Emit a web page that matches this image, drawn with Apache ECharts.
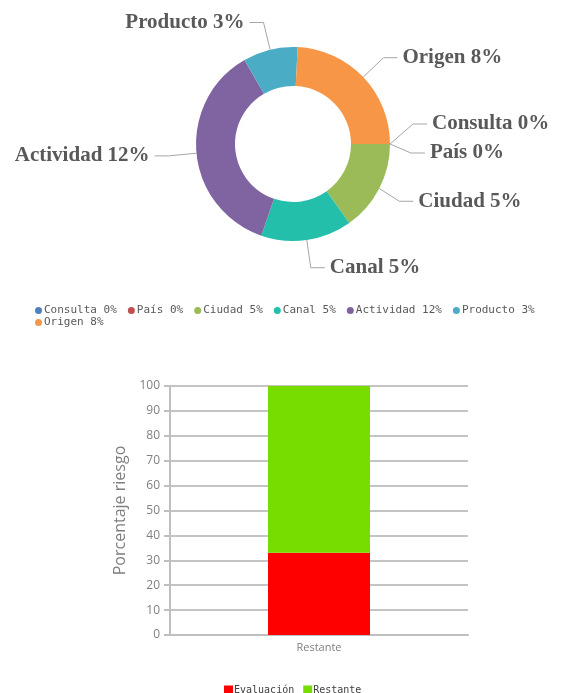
<!DOCTYPE html>
<html><head><meta charset="utf-8">
<script src="https://cdn.jsdelivr.net/npm/echarts@6/dist/echarts.min.js"></script>
<style>html,body{margin:0;padding:0;background:#fff}#c{width:568px;height:693px}</style>
</head><body><div id="c"></div>
<script>
const pieNames = ['Consulta', 'País', 'Ciudad', 'Canal', 'Actividad', 'Producto', 'Origen'];
const pieValues = [0, 0, 5, 5, 12, 3, 8];
const pieColors = ['#4f81bd', '#c0504d', '#9bbb59', '#23bfaa', '#8064a2', '#4bacc6', '#f79646'];
const barCategories = ['Restante'];
const evaluacionValues = [33];
const restanteValues = [67];
const yTicks = [0, 10, 20, 30, 40, 50, 60, 70, 80, 90, 100];

const valueOf = {};
pieNames.forEach((n, i) => valueOf[n] = pieValues[i]);

// vertical label shifts to mimic the reference label placement
const labelShift = {Consulta: -20, 'País': -14};

const chart = echarts.init(document.getElementById('c'), null, {renderer: 'canvas'});
chart.setOption({
  animation: false,
  legend: [{
    data: pieNames,
    left: 30, top: 300, width: 522,
    icon: 'circle', itemWidth: 7, itemHeight: 7, itemGap: 1,
    formatter: n => n + ' ' + valueOf[n] + '%',
    textStyle: {fontFamily: 'DejaVu Sans Mono', fontSize: 11, lineHeight: 10, color: '#595959', padding: [0, 10, 0, -3]}
  }, {
    data: ['Evaluación', 'Restante'],
    left: 219, top: 680,
    icon: 'rect', itemWidth: 9, itemHeight: 9, itemGap: 9,
    textStyle: {fontFamily: 'DejaVu Sans Mono', fontSize: 10, color: '#404040', padding: [0, 0, 0, -4]}
  }],
  grid: {left: 170, right: 100, top: 386, bottom: 58},
  xAxis: {
    type: 'category', data: barCategories,
    axisLine: {lineStyle: {color: '#bfbfbf', width: 2}},
    axisTick: {alignWithLabel: true, length: 5, lineStyle: {color: '#bfbfbf', width: 2}},
    axisLabel: {color: '#808080', fontSize: 11, fontFamily: 'Open Sans', margin: 7}
  },
  yAxis: {
    type: 'value', min: 0, max: 100, interval: 10,
    name: 'Porcentaje riesgo', nameLocation: 'middle', nameGap: 40, nameRotate: 90,
    nameTextStyle: {color: '#7f7f7f', fontSize: 16, fontFamily: 'Open Sans'},
    axisLine: {show: true, lineStyle: {color: '#bfbfbf', width: 2}},
    axisTick: {show: true, length: 6, lineStyle: {color: '#bfbfbf', width: 2}},
    axisLabel: {color: '#808080', fontSize: 12, fontFamily: 'Open Sans', margin: 10},
    splitLine: {lineStyle: {color: '#c4c4c4', width: 2}}
  },
  series: [{
    type: 'pie',
    center: [293, 144], radius: [58, 97],
    startAngle: 0, clockwise: true,
    minShowLabelAngle: 0,
    avoidLabelOverlap: true,
    data: pieNames.map((n, i) => ({name: n, value: pieValues[i], itemStyle: {color: pieColors[i]}})),
    label: {
      formatter: p => p.name + ' ' + p.value + '%',
      fontFamily: 'Liberation Serif', fontWeight: 'bold', fontSize: 21, color: '#595959'
    },
    labelLine: {length: 28, length2: 14, lineStyle: {color: '#a6a6a6', width: 1}},
    labelLayout: p => {
      const d = labelShift[pieNames[p.dataIndex]];
      if (!d || !p.labelLinePoints) return {};
      const pts = p.labelLinePoints.map((pt, k) => k === 0 ? [pt[0], pt[1]] : [pt[0], pt[1] + d]);
      return {dy: d, labelLinePoints: pts};
    },
    itemStyle: {borderColor: '#fff', borderWidth: 0}
  }, {
    type: 'bar', name: 'Evaluación', stack: 's', barWidth: 102,
    data: evaluacionValues, itemStyle: {color: '#ff0000'}
  }, {
    type: 'bar', name: 'Restante', stack: 's', barWidth: 102,
    data: restanteValues, itemStyle: {color: '#77dd00'}
  }]
});
</script></body></html>
